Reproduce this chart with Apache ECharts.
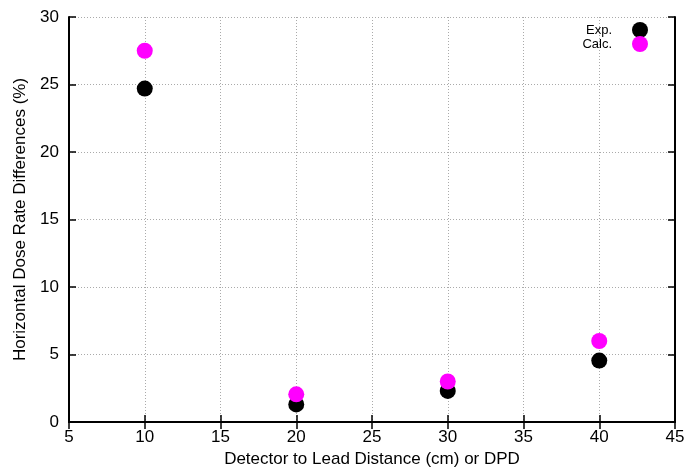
<!DOCTYPE html>
<html><head><meta charset="utf-8">
<script src="https://cdn.jsdelivr.net/npm/echarts@6/dist/echarts.min.js"></script>
<style>html,body{margin:0;padding:0;background:#fff}#c{width:689px;height:467px}</style>
</head><body><div id="c"></div>
<script>
var distances = [10, 20, 30, 40];
var expValues = [24.7, 1.3, 2.3, 4.55];
var calcValues = [27.5, 2.05, 3.0, 6.0];
var xTicks = [5, 45, 5];
var yTicks = [0, 30, 5];

var chart = echarts.init(document.getElementById('c'));
var font = 'Liberation Sans, Arial, sans-serif';
function pairs(xs, ys){ return xs.map(function(x,i){ return [x, ys[i]]; }); }
var axisLine = {show:true, lineStyle:{color:'#000', width:2}};
var tick = {show:true, inside:true, length:7, lineStyle:{color:'#000', width:1.5}};
var split = {show:true, lineStyle:{color:'#aaa', type:[1,2], width:1}};
chart.setOption({
  animation:false,
  grid:{left:69, right:14, top:17, bottom:45, outerBoundsMode:'none', containLabel:false},
  legend:{
    orient:'vertical', right:36, top:17, align:'right', itemGap:-2,
    itemWidth:16, itemHeight:16, icon:'circle',
    itemStyle:{opacity:1},
    textStyle:{fontFamily:font, fontSize:13, color:'#000', padding:[0,15,0,0]},
    data:['Exp.','Calc.']
  },
  xAxis:[{
    type:'value', min:xTicks[0], max:xTicks[1], interval:xTicks[2],
    name:'Detector to Lead Distance (cm) or DPD', nameLocation:'middle', nameGap:21,
    nameTextStyle:{fontFamily:font, fontSize:17, color:'#000'},
    axisLine:axisLine, axisTick:tick, splitLine:split,
    axisLabel:{fontFamily:font, fontSize:17, color:'#000', margin:7}
  },{
    type:'value', position:'top', min:xTicks[0], max:xTicks[1], interval:xTicks[2],
    axisLine:axisLine, axisTick:tick, splitLine:{show:false}, axisLabel:{show:false}
  }],
  yAxis:[{
    type:'value', min:yTicks[0], max:yTicks[1], interval:yTicks[2],
    name:'Horizontal Dose Rate Differences (%)', nameLocation:'middle', nameGap:40,
    nameTextStyle:{fontFamily:font, fontSize:17, color:'#000'},
    axisLine:axisLine, axisTick:tick, splitLine:split,
    axisLabel:{fontFamily:font, fontSize:17, color:'#000', margin:10}
  },{
    type:'value', position:'right', min:yTicks[0], max:yTicks[1], interval:yTicks[2],
    axisLine:axisLine, axisTick:tick, splitLine:{show:false}, axisLabel:{show:false}
  }],
  series:[{
    name:'Exp.', type:'scatter', symbolSize:16, itemStyle:{color:'#000', opacity:1},
    data:pairs(distances, expValues)
  },{
    name:'Calc.', type:'scatter', symbolSize:16, itemStyle:{color:'#ff00ff', opacity:1},
    data:pairs(distances, calcValues)
  }]
});
</script></body></html>
